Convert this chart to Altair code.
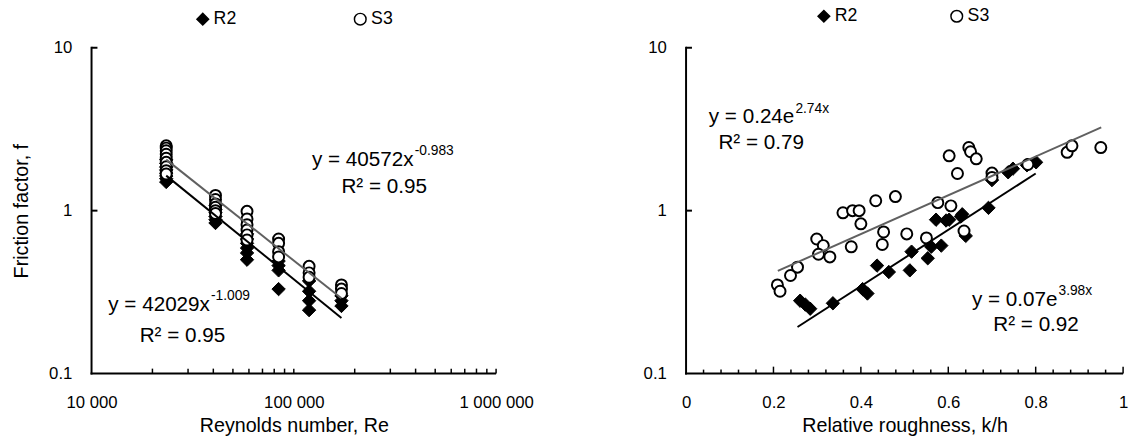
import altair as alt
import pandas as pd

FONT = "Liberation Sans"
H = 331
WL = 411
WR = 444

# ---------------- data ----------------
series_names = ["R2", "S3"]
series_shapes = ["diamond", "circle"]
series_fills = ["black", "white"]
series_strokes = ["black", "black"]

# Left panel: Reynolds number columns and friction factors
re_values = [23400, 41000, 58700, 84100, 119000, 172000]
s3_left = [
    [2.50, 2.42, 2.33, 2.22, 2.10, 1.98, 1.86, 1.76, 1.68],
    [1.24, 1.17, 1.10, 1.05, 1.00, 0.96],
    [0.99, 0.89, 0.82, 0.76, 0.71, 0.66],
    [0.67, 0.63, 0.56, 0.52],
    [0.455, 0.415, 0.39],
    [0.35, 0.33, 0.31],
]
r2_left = [
    [2.05, 1.95, 1.85, 1.78, 1.70, 1.63, 1.57, 1.50],
    [1.08, 1.02, 0.97, 0.92, 0.88, 0.84],
    [0.72, 0.67, 0.63, 0.59, 0.55, 0.50],
    [0.49, 0.46, 0.43, 0.33],
    [0.37, 0.32, 0.28, 0.245],
    [0.30, 0.28, 0.26],
]

# Right panel: relative roughness vs friction factor
kh_s3 = [0.209, 0.215, 0.239, 0.255, 0.299, 0.314, 0.303, 0.329, 0.378, 0.359,
         0.381, 0.396, 0.400, 0.434, 0.479, 0.452, 0.449, 0.505, 0.550, 0.576,
         0.606, 0.621, 0.602, 0.647, 0.651, 0.664, 0.636, 0.700, 0.700, 0.782,
         0.872, 0.883, 0.949]
f_s3 = [0.35, 0.32, 0.40, 0.45, 0.67, 0.61, 0.54, 0.52, 0.60, 0.97,
        1.00, 1.00, 0.83, 1.15, 1.22, 0.74, 0.62, 0.72, 0.68, 1.12,
        1.07, 1.69, 2.17, 2.44, 2.30, 2.08, 0.75, 1.70, 1.60, 1.92,
        2.28, 2.50, 2.44]
kh_r2 = [0.261, 0.273, 0.284, 0.336, 0.404, 0.415, 0.437, 0.464, 0.512, 0.516,
         0.553, 0.561, 0.584, 0.572, 0.595, 0.602, 0.629, 0.640, 0.632, 0.692,
         0.700, 0.737, 0.748, 0.780, 0.801]
f_r2 = [0.28, 0.265, 0.25, 0.27, 0.33, 0.31, 0.46, 0.42, 0.43, 0.56,
        0.51, 0.60, 0.61, 0.88, 0.87, 0.88, 0.92, 0.70, 0.95, 1.04,
        1.54, 1.72, 1.81, 1.90, 1.98]

# Trend line coefficients (from the printed equations) and their x extents
left_fit_a = [42029, 40572]
left_fit_b = [-1.009, -0.983]
left_fit_x = [[23400, 172000], [23400, 172000]]
right_fit_a = [0.07, 0.24]
right_fit_b = [3.98, 2.74]
right_fit_x = [[0.255, 0.80], [0.21, 0.95]]
fit_colors = ["black", "#606060"]

# Axis ticks and labels
y_ticks = [0.1, 1, 10]
y_tick_labels = ["0.1", "1", "10"]
re_ticks = [10000, 100000, 1000000]
re_tick_labels = ["10 000", "100 000", "1 000 000"]
re_minor = [20000, 30000, 40000, 50000, 60000, 70000, 80000, 90000, 100000,
            200000, 300000, 400000, 500000, 600000, 700000, 800000, 900000, 1000000]
kh_ticks = [0, 0.2, 0.4, 0.6, 0.8, 1.0]
kh_tick_labels = ["0", "0.2", "0.4", "0.6", "0.8", "1"]
kh_major = [0.2, 0.4, 0.6, 0.8, 1.0]
kh_minor = [0.04, 0.08, 0.12, 0.16, 0.24, 0.28, 0.32, 0.36, 0.44, 0.48, 0.52,
            0.56, 0.64, 0.68, 0.72, 0.76, 0.84, 0.88, 0.92, 0.96]

# Equation annotations: (main text, superscript, x, y)
left_eq = [("y = 40572x", "-0.983", 123000, 2.05),
           ("R² = 0.95", "", 172000, 1.39),
           ("y = 42029x", "-1.009", 12100, 0.263),
           ("R² = 0.95", "", 17300, 0.169)]
right_eq = [("y = 0.24e", "2.74x", 0.052, 3.73),
            ("R² = 0.79", "", 0.074, 2.6),
            ("y = 0.07e", "3.98x", 0.654, 0.283),
            ("R² = 0.92", "", 0.703, 0.197)]

EQ_SIZE = 21
SUP_SIZE = 14


def label_expr(vals, labels):
    expr = "''"
    for v, l in reversed(list(zip(vals, labels))):
        expr = f"datum.value == {v} ? '{l}' : ({expr})"
    return expr


def text_width(s, size):
    # approximate Arial / Liberation Sans advance widths
    w = {"y": .5, " ": .278, "=": .584, ".": .278, "x": .5, "e": .556, "R": .722, "²": .333}
    return sum(w.get(c, .556) for c in s) * size


def axis(values, labels, title, label_padding, title_padding):
    kw = dict(values=values, labelExpr=label_expr(values, labels), ticks=False, grid=False,
              labelPadding=label_padding, titlePadding=title_padding, labelFontSize=17,
              titleFontSize=20, titleFontWeight="normal", labelFlush=False,
              labelFont=FONT, titleFont=FONT, labelColor="black", titleColor="black",
              domain=False, labelOverlap=False)
    kw["title"] = title
    return alt.Axis(**kw)


def build_panel(xscale, xaxis, width, pts_r2, pts_s3, fit_a, fit_b, fit_x, kind,
                ticks_layers, eqs, legend, y_title):
    yscale = alt.Scale(type="log", domain=[0.1, 10], nice=False)
    yaxis = axis(y_ticks, y_tick_labels, y_title, 20, 17)
    enc_shape = alt.Shape("series:N", scale=alt.Scale(domain=series_names, range=series_shapes),
                          legend=legend)
    enc_fill = alt.Fill("series:N", scale=alt.Scale(domain=series_names, range=series_fills),
                        legend=legend)
    enc_stroke = alt.Stroke("series:N", scale=alt.Scale(domain=series_names, range=series_strokes),
                            legend=legend)

    r2 = alt.Chart(pts_r2).mark_point(filled=True, size=185, strokeWidth=1, opacity=1).encode(
        x=alt.X("x:Q", scale=xscale, axis=xaxis),
        y=alt.Y("y:Q", scale=yscale, axis=yaxis),
        shape=enc_shape, fill=enc_fill, stroke=enc_stroke)
    s3 = alt.Chart(pts_s3).mark_point(filled=True, size=125, strokeWidth=2, opacity=1).encode(
        x=alt.X("x:Q", scale=xscale),
        y=alt.Y("y:Q", scale=yscale),
        shape=enc_shape, fill=enc_fill, stroke=enc_stroke)

    layers = [r2, s3]
    for i in range(2):
        fdf = pd.DataFrame({"x": fit_x[i], "a": fit_a[i], "b": fit_b[i]})
        if kind == "pow":
            expr = "datum.a * pow(datum.x, datum.b)"
        else:
            expr = "datum.a * exp(datum.b * datum.x)"
        line = alt.Chart(fdf).transform_calculate(y=expr).mark_line(
            color=fit_colors[i], strokeWidth=2).encode(
            x=alt.X("x:Q", scale=xscale), y=alt.Y("y:Q", scale=yscale))
        layers.append(line)

    # axis lines (left and bottom)
    frame = pd.DataFrame({"k": [0]})
    layers.append(alt.Chart(frame).mark_rule(color="black", strokeWidth=2).encode(
        x=alt.value(0), y=alt.value(-1), y2=alt.value(H + 1)))
    layers.append(alt.Chart(frame).mark_rule(color="black", strokeWidth=2).encode(
        x=alt.value(-1), x2=alt.value(width), y=alt.value(H)))

    # inward y ticks
    ytick = alt.Chart(pd.DataFrame({"y": [1, 10]})).mark_rule(
        color="black", strokeWidth=2).encode(
        y=alt.Y("y:Q", scale=yscale), x=alt.value(0), x2=alt.value(6))
    layers.append(ytick)
    layers.extend(ticks_layers)

    for main, sup, ex, ey in eqs:
        d = pd.DataFrame({"x": [ex], "y": [ey], "t": [main]})
        layers.append(alt.Chart(d).mark_text(align="left", baseline="middle", font=FONT,
                                             fontSize=EQ_SIZE, color="black").encode(
            x=alt.X("x:Q", scale=xscale), y=alt.Y("y:Q", scale=yscale), text="t:N"))
        if sup:
            d2 = pd.DataFrame({"x": [ex], "y": [ey], "t": [sup]})
            layers.append(alt.Chart(d2).mark_text(align="left", baseline="middle", font=FONT,
                                                  fontSize=SUP_SIZE, color="black",
                                                  dx=text_width(main, EQ_SIZE) + 1, dy=-9).encode(
                x=alt.X("x:Q", scale=xscale), y=alt.Y("y:Q", scale=yscale), text="t:N"))

    return alt.layer(*layers).properties(width=width, height=H)


def make_legend(x, y, col_pad):
    return alt.Legend(title=None, orient="none", legendX=x, legendY=y,
                      direction="horizontal", columnPadding=col_pad,
                      labelFont=FONT, labelFontSize=18, labelColor="black",
                      symbolSize=140, symbolStrokeWidth=1.5, labelOffset=2)


# ---------------- left panel ----------------
lx, ly, ls = [], [], []
for xv, col in zip(re_values, r2_left):
    for v in col:
        lx.append(xv); ly.append(v); ls.append("R2")
left_r2 = pd.DataFrame({"x": lx, "y": ly, "series": ls})
lx, ly, ls = [], [], []
for xv, col in zip(re_values, s3_left):
    for v in col:
        lx.append(xv); ly.append(v); ls.append("S3")
left_s3 = pd.DataFrame({"x": lx, "y": ly, "series": ls})

re_scale = alt.Scale(type="log", domain=[10000, 1000000], nice=False)
re_axis = axis(re_ticks, re_tick_labels, "Reynolds number, Re", 22, 5)
left_ticks = [alt.Chart(pd.DataFrame({"x": re_minor})).mark_rule(
    color="black", strokeWidth=1.5).encode(
    x=alt.X("x:Q", scale=re_scale), y=alt.value(H), y2=alt.value(H - 5))]
left = build_panel(re_scale, re_axis, WL, left_r2, left_s3, left_fit_a, left_fit_b,
                   left_fit_x, "pow", left_ticks, left_eq, make_legend(104, -38, 116),
                   "Friction factor, f")

# ---------------- right panel ----------------
right_r2 = pd.DataFrame({"x": kh_r2, "y": f_r2, "series": ["R2"] * len(kh_r2)})
right_s3 = pd.DataFrame({"x": kh_s3, "y": f_s3, "series": ["S3"] * len(kh_s3)})
kh_scale = alt.Scale(domain=[0, 1.0], nice=False, zero=False)
kh_axis = axis(kh_ticks, kh_tick_labels, "Relative roughness, k/h", 22, 5)
right_ticks = [
    alt.Chart(pd.DataFrame({"x": kh_major})).mark_rule(color="black", strokeWidth=1.5).encode(
        x=alt.X("x:Q", scale=kh_scale), y=alt.value(H), y2=alt.value(H - 7)),
    alt.Chart(pd.DataFrame({"x": kh_minor})).mark_rule(color="black", strokeWidth=1.5).encode(
        x=alt.X("x:Q", scale=kh_scale), y=alt.value(H), y2=alt.value(H - 4)),
]
right = build_panel(kh_scale, kh_axis, WR, right_r2, right_s3, right_fit_a, right_fit_b,
                    right_fit_x, "exp", right_ticks, right_eq, make_legend(131, -41, 91), None)

chart = alt.hconcat(left, right, spacing=109).resolve_scale(
    x="independent", y="independent", shape="independent", fill="independent",
    stroke="independent"
).properties(
    padding={"left": 11, "top": 3, "right": 0, "bottom": 0},
    background="white"
).configure_view(stroke="transparent")

chart.save("out.html", embed_options={"renderer": "svg", "actions": False})
